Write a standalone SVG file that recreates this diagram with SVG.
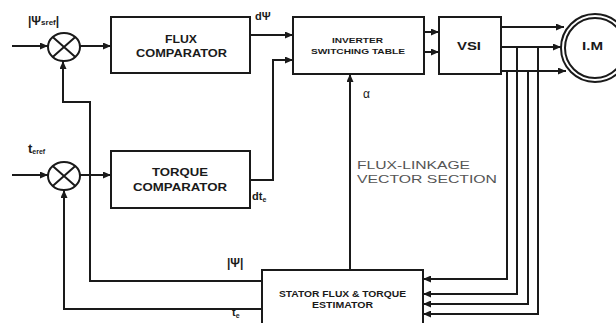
<svg xmlns="http://www.w3.org/2000/svg" width="616" height="323" viewBox="0 0 616 323">
<style>
.box{fill:#fff;stroke:#1a1a1a;stroke-width:2}
.ln{fill:none;stroke:#1a1a1a;stroke-width:2}
.b{font-family:"Liberation Sans",Arial,sans-serif;font-weight:bold;fill:#1a1a1a}
.r{font-family:"Liberation Sans",Arial,sans-serif;fill:#555}
</style>
<defs>
<marker id="ah" markerUnits="userSpaceOnUse" markerWidth="8" markerHeight="7" refX="8" refY="3.5" orient="auto">
<path d="M0,0 L8,3.5 L0,7 z" fill="#1a1a1a"/>
</marker>
</defs>
<rect width="616" height="323" fill="#fff"/>
<g id="connectors">
<path class="ln" d="M12,46 H48" marker-end="url(#ah)"/>
<path class="ln" d="M80,46 H111" marker-end="url(#ah)"/>
<path class="ln" d="M246,35 H293" marker-end="url(#ah)"/>
<path class="ln" d="M250,180 H273 V60 H293" marker-end="url(#ah)"/>
<path class="ln" d="M12,175 H48" marker-end="url(#ah)"/>
<path class="ln" d="M80,175 H111" marker-end="url(#ah)"/>
<path class="ln" d="M418,32 H439" marker-end="url(#ah)"/>
<path class="ln" d="M418,52 H439" marker-end="url(#ah)"/>
<path class="ln" d="M501,27 H564" marker-end="url(#ah)"/>
<path class="ln" d="M501,47 H561" marker-end="url(#ah)"/>
<path class="ln" d="M501,71 H566" marker-end="url(#ah)"/>
<path class="ln" d="M507,71 V279 H423" marker-end="url(#ah)"/>
<path class="ln" d="M517,47 V294 H423" marker-end="url(#ah)"/>
<path class="ln" d="M528,71 V304 H423" marker-end="url(#ah)"/>
<path class="ln" d="M538,47 V314 H423" marker-end="url(#ah)"/>
<path class="ln" d="M350,270 V74" marker-end="url(#ah)"/>
<path class="ln" d="M262,281 H90 V102 H63 V61" marker-end="url(#ah)"/>
<path class="ln" d="M262,309 H64 V190" marker-end="url(#ah)"/>
</g>
<g id="sum_flux">
<ellipse class="box" cx="64" cy="47" rx="16" ry="14"/>
<path class="ln" d="M52.7,37.1 L75.3,56.9 M75.3,37.1 L52.7,56.9"/>
<text class="b" x="28" y="25" font-size="12">|Ψ<tspan font-size="8">sref</tspan>|</text>
</g>
<g id="sum_torque">
<ellipse class="box" cx="64" cy="176" rx="16" ry="14"/>
<path class="ln" d="M52.7,166.1 L75.3,185.9 M75.3,166.1 L52.7,185.9"/>
<text class="b" x="28" y="153" font-size="13">t<tspan font-size="7" dy="1">eref</tspan></text>
</g>
<g id="flux_comparator">
<rect class="box" x="111" y="17" width="139" height="56"/>
<text class="b" x="165" y="43" font-size="10" textLength="32" lengthAdjust="spacingAndGlyphs">FLUX</text>
<text class="b" x="136" y="57" font-size="10" textLength="91" lengthAdjust="spacingAndGlyphs">COMPARATOR</text>
<text class="b" x="255" y="20" font-size="11">dΨ</text>
</g>
<g id="torque_comparator">
<rect class="box" x="111" y="151" width="139" height="57"/>
<text class="b" x="152" y="176" font-size="10" textLength="56" lengthAdjust="spacingAndGlyphs">TORQUE</text>
<text class="b" x="133" y="191" font-size="10" textLength="94" lengthAdjust="spacingAndGlyphs">COMPARATOR</text>
<text class="b" x="252" y="200" font-size="11">dt<tspan font-size="7" dy="2">e</tspan></text>
</g>
<g id="switching_table">
<rect class="box" x="293" y="17" width="131" height="57"/>
<text class="b" x="332" y="43" font-size="8" textLength="51" lengthAdjust="spacingAndGlyphs">INVERTER</text>
<text class="b" x="311" y="54" font-size="8" textLength="94" lengthAdjust="spacingAndGlyphs">SWITCHING TABLE</text>
</g>
<g id="vsi">
<rect class="box" x="439" y="17" width="62" height="57"/>
<text class="b" x="457" y="50" font-size="11" textLength="24" lengthAdjust="spacingAndGlyphs">VSI</text>
</g>
<g id="motor">
<circle class="box" cx="595" cy="48" r="34"/>
<circle class="ln" cx="595" cy="48" r="30"/>
<text class="b" x="582" y="50" font-size="11" textLength="21" lengthAdjust="spacingAndGlyphs">I.M</text>
</g>
<g id="estimator">
<rect class="box" x="262" y="270" width="161" height="70"/>
<text class="b" x="279" y="297" font-size="9" textLength="127" lengthAdjust="spacingAndGlyphs">STATOR FLUX &amp; TORQUE</text>
<text class="b" x="312" y="308" font-size="9" textLength="61" lengthAdjust="spacingAndGlyphs">ESTIMATOR</text>
</g>
<g id="labels">
<text class="r" x="363" y="98" font-size="12" fill="#1a1a1a" style="fill:#1a1a1a">α</text>
<text class="r" x="357" y="169" font-size="11" textLength="113" lengthAdjust="spacingAndGlyphs">FLUX-LINKAGE</text>
<text class="r" x="357" y="183" font-size="11" textLength="140" lengthAdjust="spacingAndGlyphs">VECTOR SECTION</text>
<text class="b" x="227" y="267" font-size="12">|Ψ|</text>
<text class="b" x="232" y="316" font-size="11">t<tspan font-size="7" dy="2">e</tspan></text>
</g>
</svg>
